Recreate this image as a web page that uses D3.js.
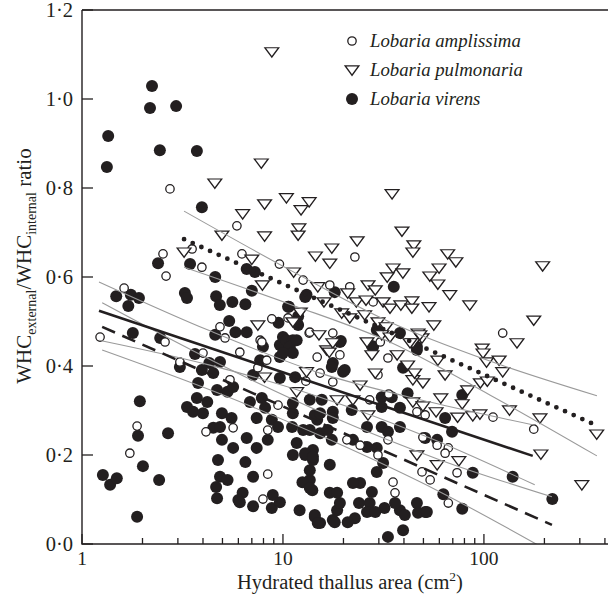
<!DOCTYPE html>
<html><head><meta charset="utf-8">
<script src="https://cdn.jsdelivr.net/npm/d3@7"></script>
<style>body{margin:0;background:#fff}svg{display:block}text{font-family:"Liberation Serif","Times New Roman",serif;fill:#231f20}</style>
</head><body><svg id="c" width="608" height="595"></svg>
<script>
// ---- data ----
const ampX=[2.74,5.9,3.53,2.53,6.25,9.6,12.6,17.1,3.95,2.62,1.62,8.8,4.86,5.15,13.5,17.7,1.23,2.59,4.0,3.07,5.45,9.45,4.14,5.65,8.4,8.4,7.95,14.8,15.3,17.7,7.7,6.1,7.5,8.3,1.73,1.88,22.8,124,21.5,28.1,10.6,30.5,13.6,19.2,13,33.3,29.7,27,33.6,46.4,51,111,177,20.8,24.2,29.7,33.3,49.7,58.5,66.5,64.1,49.2,54,73.5,35.3,36.1,66.5,7.85];
const ampY=[0.798,0.715,0.663,0.652,0.652,0.629,0.593,0.582,0.622,0.602,0.575,0.506,0.488,0.463,0.474,0.474,0.465,0.454,0.429,0.409,0.369,0.312,0.252,0.261,0.256,0.157,0.101,0.420,0.384,0.364,0.458,0.431,0.396,0.413,0.204,0.265,0.645,0.474,0.578,0.544,0.508,0.454,0.476,0.425,0.366,0.418,0.380,0.324,0.337,0.297,0.290,0.285,0.258,0.234,0.222,0.200,0.234,0.240,0.222,0.216,0.204,0.162,0.144,0.160,0.139,0.115,0.092,0.454];
const pulX=[8.8,7.8,4.58,6.3,8.1,10.4,12.3,13.5,4.97,8.1,12.0,11.9,17.5,14.5,17.1,3.22,7.0,11.3,7.9,14.9,16.0,12.2,7.5,15.1,8.1,11.7,13.1,16.5,18.6,34.9,23.4,39.1,44.8,44.3,66,72.5,196,59.8,53.8,59,67.6,85,177,146,53.3,56.3,35.3,33,39.5,21,26.5,28.8,23.2,25.9,31.5,34.1,38.6,43.8,43.8,19.6,21.5,25.5,29.7,32.6,11.2,26.2,31,34.1,47,49.2,44.3,98,99,103,119,124,96,104,134,190,364,192,307,64.1,83,78,61,59,44.3,49.7,57.8,74,88,95.5,46.4,58.5,75,24.2,22.3,26.5,44.3,49.7,27.7,37,48,42.9,17.7,17,28.8,41.7,45.2];
const pulY=[1.106,0.856,0.811,0.742,0.764,0.778,0.751,0.769,0.694,0.692,0.710,0.694,0.665,0.647,0.631,0.656,0.640,0.611,0.582,0.578,0.544,0.521,0.492,0.470,0.375,0.342,0.387,0.436,0.324,0.787,0.681,0.703,0.672,0.656,0.652,0.634,0.625,0.620,0.602,0.584,0.560,0.537,0.503,0.452,0.533,0.492,0.620,0.600,0.609,0.564,0.582,0.571,0.544,0.548,0.544,0.530,0.537,0.546,0.530,0.519,0.508,0.515,0.499,0.488,0.499,0.454,0.470,0.465,0.474,0.463,0.452,0.440,0.429,0.409,0.413,0.387,0.362,0.366,0.301,0.283,0.247,0.202,0.133,0.380,0.346,0.315,0.328,0.413,0.369,0.362,0.297,0.285,0.288,0.292,0.200,0.178,0.187,0.357,0.324,0.290,0.319,0.310,0.425,0.425,0.470,0.452,0.452,0.431,0.384,0.402,0.384];
const virX=[1.35,1.33,2.23,2.18,2.94,2.44,3.73,3.95,18.1,2.39,3.45,4.6,6.6,7.25,7.0,13.1,1.48,1.75,1.92,1.70,3.25,3.33,4.65,4.85,5.6,6.5,10.7,11.9,5.4,5.8,6.6,9.5,4.6,1.79,2.45,3.65,3.07,4.86,4.3,3.95,4.5,3.78,4.7,5.3,5.65,3.33,3.73,3.57,4.0,4.2,4.97,5.55,6.85,7.85,8.15,7.4,8.8,9.45,7.1,4.5,4.86,4.97,5.65,8.4,6.6,7.4,6.5,4.75,4.86,5.3,4.65,4.7,7.1,6.3,6.0,7.1,8.9,8.8,9.65,12.1,14.4,15.3,17.7,14.0,13.6,13.6,14.1,17.1,11.2,12.9,11.7,14.1,11.1,12.6,15.3,17.5,11.2,14.8,16.7,13.6,15.6,17.7,14.4,11.2,9.65,10.0,10.8,9.65,11.5,9.65,17.7,1.27,1.38,1.49,2.01,1.9,2.68,2.42,1.88,1.94,35.6,11.9,29.3,38.2,19.4,27.7,46.4,10.4,11.2,19.2,19.9,46.4,39.6,15.3,17.7,13.6,22,31,31,34.8,38.2,41.7,26.2,31,33.3,38.2,22.3,26.2,29.3,31.5,29.3,24.2,27.7,27,22.8,32,33.3,39.6,38.2,46.4,51,36.1,12.9,14.1,12.5,13.6,14.4,17.1,18.6,21,18.6,22.3,64.1,69.4,58.5,51,88,62.8,78,139,219,78,10.8,11.7,11.2,10,7.95,7.7,10.6,12.9,11.7,17.5,20.3,28.1,6.1,14.9,18.1,19.2,23.9,26.2,28.8,40.4,47,52];
const virY=[0.917,0.847,1.029,0.980,0.984,0.885,0.883,0.757,0.566,0.631,0.629,0.600,0.618,0.611,0.569,0.560,0.557,0.560,0.553,0.535,0.564,0.553,0.557,0.537,0.544,0.539,0.533,0.512,0.501,0.476,0.476,0.497,0.470,0.474,0.463,0.427,0.398,0.409,0.407,0.391,0.384,0.362,0.346,0.342,0.353,0.308,0.328,0.297,0.294,0.319,0.294,0.283,0.319,0.328,0.306,0.283,0.279,0.263,0.380,0.261,0.263,0.234,0.216,0.234,0.238,0.216,0.184,0.189,0.151,0.144,0.128,0.103,0.151,0.115,0.099,0.085,0.110,0.081,0.094,0.076,0.061,0.047,0.054,0.121,0.144,0.166,0.189,0.178,0.200,0.200,0.227,0.211,0.263,0.256,0.249,0.234,0.294,0.279,0.256,0.324,0.324,0.297,0.290,0.317,0.447,0.465,0.440,0.420,0.375,0.373,0.407,0.155,0.133,0.148,0.175,0.243,0.249,0.144,0.061,0.321,0.578,0.492,0.481,0.474,0.456,0.445,0.443,0.458,0.458,0.454,0.387,0.436,0.396,0.294,0.283,0.256,0.301,0.330,0.308,0.330,0.306,0.339,0.263,0.263,0.252,0.263,0.234,0.218,0.216,0.182,0.162,0.137,0.117,0.092,0.058,0.081,0.016,0.031,0.076,0.092,0.072,0.092,0.204,0.196,0.139,0.126,0.065,0.115,0.115,0.049,0.076,0.137,0.283,0.252,0.234,0.238,0.160,0.112,0.079,0.151,0.101,0.335,0.443,0.458,0.429,0.429,0.443,0.413,0.533,0.555,0.499,0.398,0.391,0.443,0.094,0.047,0.049,0.092,0.092,0.072,0.072,0.065,0.070,0.072];

// regression lines (end points) and confidence bands
const ampFitX=[1.215,175], ampFitY=[0.524,0.198];
const ampBandX=[1.215,4.33,15.3,53.9,179], ampUpY=[0.589,0.479,0.384,0.319,0.267], ampLoY=[0.458,0.402,0.330,0.238,0.133];
const pulFitX=[3.22,349], pulFitY=[0.685,0.270];
const pulBandX=[3.22,10.8,34.0,107,365], pulUpY=[0.748,0.616,0.499,0.411,0.333], pulLoY=[0.622,0.539,0.454,0.335,0.198];
const virFitX=[1.26,218], virFitY=[0.488,0.043];
const virBandX=[1.26,4.59,17.1,60.5,218], virUpY=[0.542,0.409,0.288,0.189,0.106], virLoY=[0.436,0.342,0.234,0.117,-0.020];

const yTicks=[0,0.2,0.4,0.6,0.8,1.0,1.2];
const xMajor=[1,10,100];
const xMinor=[2,3,4,5,6,7,8,9,20,30,40,50,60,70,80,90,200,300,400];
const species=["Lobaria amplissima","Lobaria pulmonaria","Lobaria virens"];

// ---- drawing ----
const svg=d3.select("#c");
const L=82,R=606,T=10,B=544;
const x=d3.scaleLog().domain([1,405]).range([L,R]);
const y=d3.scaleLinear().domain([0,1.2]).range([B,T]);
const ink="#231f20";

svg.append("defs").append("clipPath").attr("id","clip").append("rect")
  .attr("x",L).attr("y",T).attr("width",R-L+4).attr("height",B-T);

const tri=d3.symbol().type(d3.symbolTriangle).size(62);
const plot=svg.append("g").attr("clip-path","url(#clip)");

// filled circles
plot.append("g").selectAll("circle").data(d3.range(virX.length)).join("circle")
  .attr("cx",i=>x(virX[i])).attr("cy",i=>y(virY[i])).attr("r",6).attr("fill",ink);
// open circles
plot.append("g").selectAll("circle").data(d3.range(ampX.length)).join("circle")
  .attr("cx",i=>x(ampX[i])).attr("cy",i=>y(ampY[i])).attr("r",4.2)
  .attr("fill","#fff").attr("stroke",ink).attr("stroke-width",1.3);
// triangles
plot.append("g").selectAll("path").data(d3.range(pulX.length)).join("path")
  .attr("d",tri).attr("transform",i=>`translate(${x(pulX[i])},${y(pulY[i])-1}) rotate(180) scale(1.15,0.9)`)
  .attr("fill","#fff").attr("stroke",ink).attr("stroke-width",1.3);

// bands
const band=d3.line().x(d=>x(d[0])).y(d=>y(d[1])).curve(d3.curveMonotoneX);
[[ampBandX,ampUpY],[ampBandX,ampLoY],[pulBandX,pulUpY],[pulBandX,pulLoY],[virBandX,virUpY],[virBandX,virLoY]]
 .forEach(([bx,by])=>{
  plot.append("path").attr("d",band(bx.map((v,i)=>[v,by[i]])))
   .attr("fill","none").attr("stroke","#9a9a9a").attr("stroke-width",1.1);
 });
const fit=d3.line().x(d=>x(d[0])).y(d=>y(d[1]));
plot.append("path").attr("d",fit(ampFitX.map((v,i)=>[v,ampFitY[i]])))
  .attr("fill","none").attr("stroke",ink).attr("stroke-width",2.6);
plot.append("path").attr("d",fit(pulFitX.map((v,i)=>[v,pulFitY[i]])))
  .attr("fill","none").attr("stroke",ink).attr("stroke-width",4.8)
  .attr("stroke-linecap","round").attr("stroke-dasharray","0 9.5");
plot.append("path").attr("d",fit(virFitX.map((v,i)=>[v,virFitY[i]])))
  .attr("fill","none").attr("stroke",ink).attr("stroke-width",2.6)
  .attr("stroke-dasharray","14 8");

// axes frame
svg.append("path").attr("d",`M${L},${T}H${R+4}M${L},${T}V${B}H${R+4}`)
  .attr("fill","none").attr("stroke",ink).attr("stroke-width",1.4);

// y ticks (inward)
const yAxis=svg.append("g");
yAxis.selectAll("line").data(yTicks).join("line")
  .attr("x1",L).attr("x2",L+11).attr("y1",d=>y(d)).attr("y2",d=>y(d))
  .attr("stroke",ink).attr("stroke-width",1.3);
yAxis.selectAll("text").data(yTicks).join("text")
  .attr("x",L-9).attr("y",d=>y(d)+7).attr("text-anchor","end")
  .attr("font-size",20.5).text(d=>d3.format(".1f")(d).replace(".","·"));

// x ticks (inward)
const xAxis=svg.append("g");
xAxis.selectAll("line.maj").data(xMajor).join("line").attr("class","maj")
  .attr("x1",d=>x(d)).attr("x2",d=>x(d)).attr("y1",B).attr("y2",B-10)
  .attr("stroke",ink).attr("stroke-width",1.3);
xAxis.selectAll("line.min").data(xMinor).join("line").attr("class","min")
  .attr("x1",d=>x(d)).attr("x2",d=>x(d)).attr("y1",B).attr("y2",B-6)
  .attr("stroke",ink).attr("stroke-width",1.3);
xAxis.selectAll("text").data(xMajor).join("text")
  .attr("x",d=>x(d)).attr("y",B+21).attr("text-anchor","middle")
  .attr("font-size",19.5).text(d=>d);

// axis titles
const xt=svg.append("text").attr("x",350).attr("y",589).attr("text-anchor","middle").attr("font-size",20.5);
xt.append("tspan").text("Hydrated thallus area (cm");
xt.append("tspan").attr("font-size",13.5).attr("dy",-8).text("2");
xt.append("tspan").attr("dy",8).text(")");

const yt=svg.append("text").attr("transform","translate(31,266) rotate(-90)")
  .attr("text-anchor","middle").attr("font-size",21);
yt.append("tspan").text("WHC");
yt.append("tspan").attr("font-size",14).attr("dy",4.5).text("external");
yt.append("tspan").attr("dy",-4.5).text("/WHC");
yt.append("tspan").attr("font-size",14).attr("dy",4.5).text("internal");
yt.append("tspan").attr("dy",-4.5).text(" ratio");

// legend
const lg=svg.append("g");
const ly=[41,70,99];
lg.append("circle").attr("cx",352).attr("cy",ly[0]).attr("r",4.2).attr("fill","#fff").attr("stroke",ink).attr("stroke-width",1.3);
lg.append("path").attr("d",tri).attr("transform",`translate(352,${ly[1]-1}) rotate(180) scale(1.15,0.9)`).attr("fill","#fff").attr("stroke",ink).attr("stroke-width",1.3);
lg.append("circle").attr("cx",352).attr("cy",ly[2]).attr("r",6).attr("fill",ink);
lg.selectAll("text").data(species).join("text")
  .attr("x",370).attr("y",(d,i)=>ly[i]+6).attr("font-size",18.8).attr("font-style","italic").text(d=>d);
</script></body></html>
